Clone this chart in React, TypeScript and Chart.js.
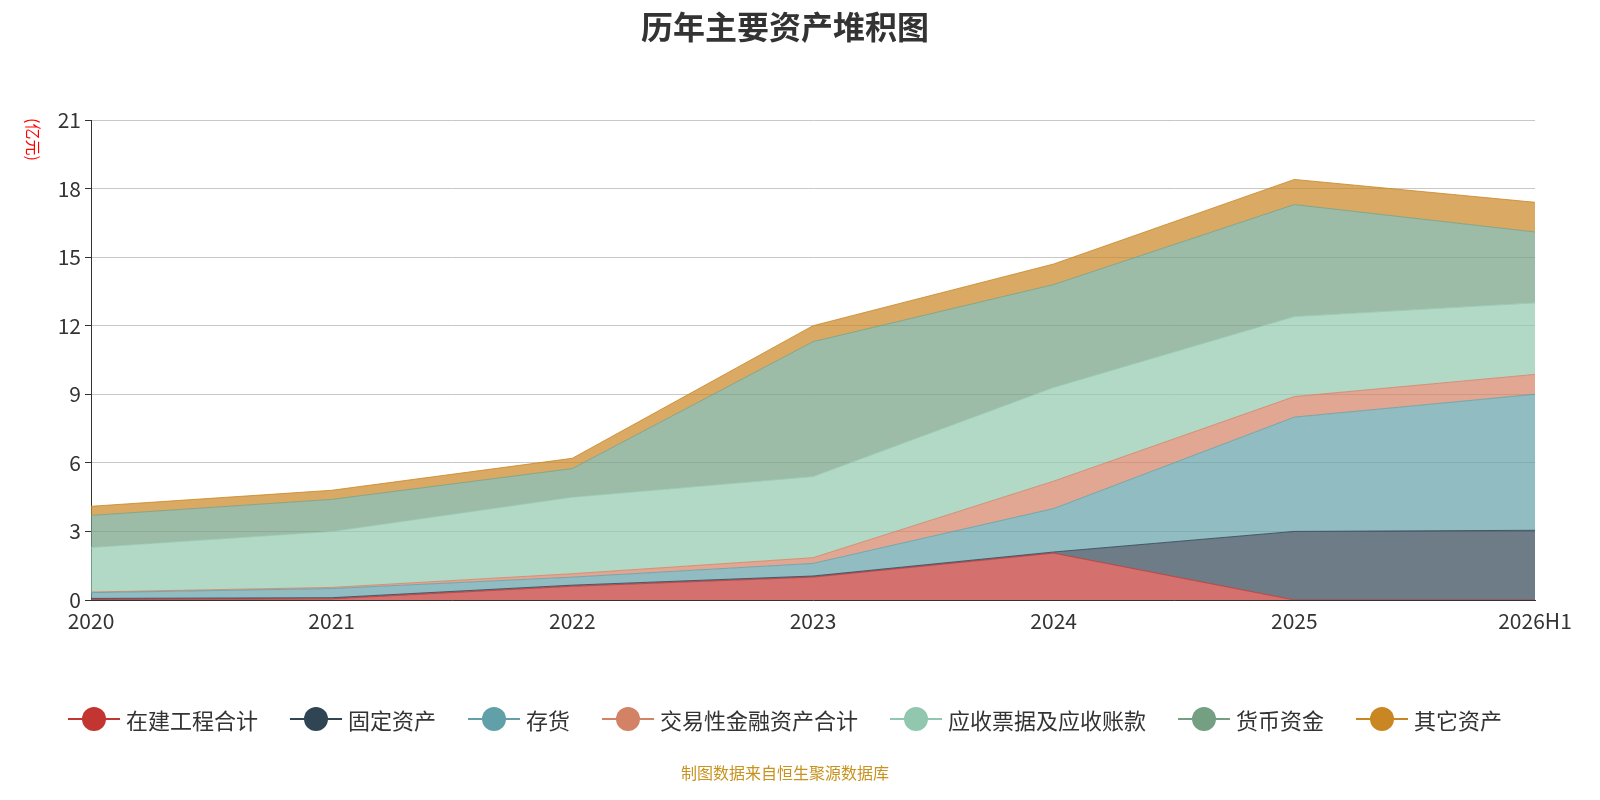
import React, { useEffect, useRef } from "react";
import { Chart, registerables } from "chart.js";
Chart.register(...registerables);

const categories = ["2020", "2021", "2022", "2023", "2024", "2025", "2026H1"];
const seriesNames = ["在建工程合计", "固定资产", "存货", "交易性金融资产合计", "应收票据及应收账款", "货币资金", "其它资产"];
const zjgc = [0.02, 0.05, 0.6, 1.0, 2.05, 0, 0];
const gdzc = [0.05, 0.05, 0.05, 0.05, 0.05, 3.0, 3.05];
const ch = [0.25, 0.4, 0.35, 0.55, 1.9, 5.0, 5.95];
const jyx = [0.03, 0.05, 0.15, 0.25, 1.2, 0.9, 0.87];
const yspj = [1.95, 2.45, 3.35, 3.55, 4.1, 3.5, 3.13];
const hbzj = [1.4, 1.4, 1.25, 5.9, 4.5, 4.9, 3.1];
const qt = [0.4, 0.4, 0.45, 0.7, 0.9, 1.1, 1.3];
const yTicks = [0, 3, 6, 9, 12, 15, 18, 21];

const colors = ["#c23531", "#2f4554", "#61a0a8", "#d48265", "#91c7ae", "#749f83", "#ca8622"];
const series = [zjgc, gdzc, ch, jyx, yspj, hbzj, qt];

function hexA(h: string, a: number) {
  const n = parseInt(h.slice(1), 16);
  return `rgba(${(n >> 16) & 255},${(n >> 8) & 255},${n & 255},${a})`;
}

export default function App() {
  const ref = useRef<HTMLCanvasElement>(null);
  useEffect(() => {
    document.body.style.margin = "0";
    const chart = new Chart(ref.current!, {
      type: "line",
      data: {
        labels: categories,
        datasets: series.map((d, i) => ({
          label: seriesNames[i],
          data: d,
          borderColor: hexA(colors[i], 0.8),
          borderWidth: 1,
          backgroundColor: hexA(colors[i], 0.7),
          fill: i === 0 ? "origin" : "-1",
          pointRadius: 0,
          tension: 0,
        })),
      },
      options: {
        animation: false,
        responsive: false,
        layout: { padding: { top: 120, right: 65, left: 0, bottom: 0 } },
        plugins: { legend: { display: false }, title: { display: false }, tooltip: { enabled: false } },
        scales: {
          x: {
            offset: false,
            grid: { display: false, drawTicks: true, tickLength: 6, color: "#333" },
            border: { color: "#333" },
            ticks: { color: "#333", font: { size: 21, family: "Noto Sans CJK SC" }, maxRotation: 0, padding: 2 },
            afterFit: (s: any) => { s.height = 200; },
          },
          y: {
            stacked: true,
            min: 0,
            max: 21,
            afterBuildTicks: (s: any) => { s.ticks = yTicks.map((v) => ({ value: v })); },
            grid: { color: "#c8c8c8", tickLength: 6, tickColor: "#333" },
            border: { color: "#333" },
            ticks: { color: "#333", font: { size: 21, family: "Noto Sans CJK SC" }, padding: 4 },
            afterFit: (s: any) => { s.width = 91; },
          },
        },
      },
    });
    return () => chart.destroy();
  }, []);
  const font = "'Noto Sans CJK SC', sans-serif";
  return (
    <div style={{ position: "relative", width: 1600, height: 800, fontFamily: font }}>
      <canvas ref={ref} width={1600} height={800} style={{ position: "absolute", left: 0, top: 0 }} />
      <div style={{ position: "absolute", top: 2, left: 0, width: 1570, textAlign: "center", fontSize: 32, fontWeight: "bold", color: "#333" }}>历年主要资产堆积图</div>
      <div style={{ position: "absolute", left: 22, top: 118, color: "red", fontSize: 16, writingMode: "vertical-rl", textOrientation: "sideways" as any }}>(亿元)</div>
      <div style={{ position: "absolute", top: 703, left: 0, width: 1570, display: "flex", justifyContent: "center", gap: 32, fontSize: 22, color: "#333" }}>
        {seriesNames.map((n, i) => (
          <div key={n} style={{ display: "flex", alignItems: "center", gap: 6 }}>
            <span style={{ position: "relative", width: 52, height: 24, display: "inline-block" }}>
              <span style={{ position: "absolute", left: 0, right: 0, top: 11, height: 2, background: colors[i] }} />
              <span style={{ position: "absolute", left: 14, top: 0, width: 24, height: 24, borderRadius: 12, background: colors[i] }} />
            </span>
            <span>{n}</span>
          </div>
        ))}
      </div>
      <div style={{ position: "absolute", top: 760, left: 0, width: 1570, textAlign: "center", fontSize: 16, color: "#c8921e" }}>制图数据来自恒生聚源数据库</div>
    </div>
  );
}
